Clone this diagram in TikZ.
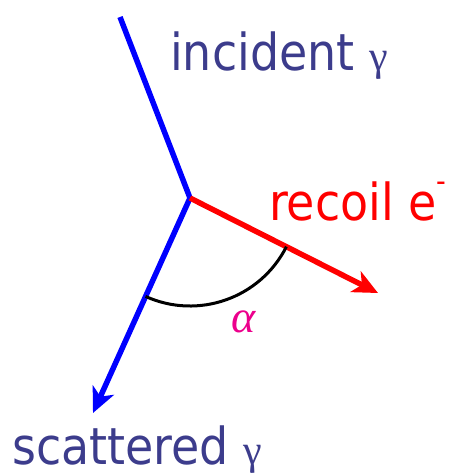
\documentclass[tikz,border=0pt]{standalone}
\usepackage{fontspec}
\setmainfont{DejaVu Sans Condensed}
\newfontfamily\grk{Liberation Serif}
\usetikzlibrary{arrows.meta}
\definecolor{navytext}{RGB}{60,60,140}
\tikzset{
  ray/.style={line width=5.5pt},
  tip/.style={-{Stealth[length=25pt,width=23pt,inset=7pt]}},
  lbl/.style={anchor=base west, inner sep=0pt, font=\fontsize{51}{54}\selectfont},
}
\newcommand{\gam}{{\grk\fontsize{42}{44}\selectfont γ}}
\begin{document}
\begin{tikzpicture}[x=1pt,y=1pt]
\useasboundingbox (0,0) rectangle (459,-475);
\coordinate (v) at (190,-198);
\coordinate (inc) at (120,-17);
\coordinate (sca) at (93,-413);
\coordinate (rec) at (378,-293);
\draw[ray, blue] (inc) -- (v);
\draw[ray, blue, tip] (v) -- (sca);
\draw[ray, red, tip] (v) -- (rec);
\draw[line width=3pt, black] ([shift={(-114.3:108)}]v) arc[start angle=-114.3, end angle=-26.8, radius=108];
\node[lbl, text=navytext] (tinc) at (170,-70) {incident \gam};
\node[lbl, text=red] (trec) at (269,-220) {recoil e\raisebox{0.55em}{\fontsize{30}{30}\selectfont -}};
\node[lbl, text=navytext] (tsca) at (12,-464) {scattered \gam};
\node[inner sep=0pt, text=magenta, font=\grk\itshape\fontsize{46}{48}\selectfont] (alpha) at (244,-322) {α};
\end{tikzpicture}
\end{document}
